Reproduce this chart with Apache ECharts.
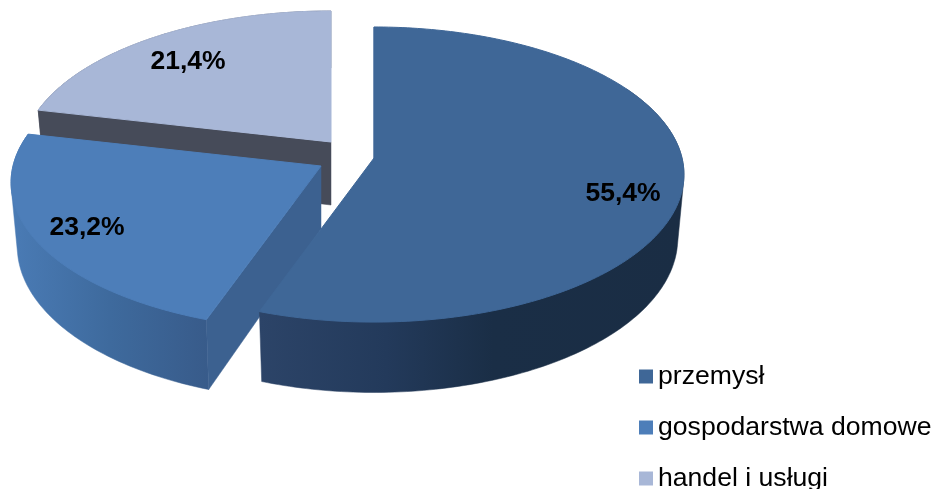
<!DOCTYPE html>
<html><head><meta charset="utf-8">
<style>html,body{margin:0;padding:0;background:#fff}#c{width:934px;height:489px}</style>
<script src="https://cdn.jsdelivr.net/npm/echarts@6/dist/echarts.min.js"></script>
</head><body><div id="c"></div>
<script>
const categories = ['przemysł', 'gospodarstwa domowe', 'handel i usługi'];
const shares = [55.4, 23.2, 21.4];
const shareLabels = ['55,4%', '23,2%', '21,4%'];

// Look of each slice (same order as the categories)
const topColors = ['#3f6797', '#4d7eb9', '#a8b7d7'];
const sideColors = ['#3f6797', '#3c6190', '#464b59'];
const wallStops = [
  [[0, '#2c4468'], [0.3, '#233a5b'], [0.55, '#1a2e46'], [1, '#1a2d44']],
  [[0, '#4a7bb5'], [0.5, '#3e6a9d'], [1, '#385b8a']],
  [[0, '#464b59'], [1, '#464b59']]
];
const explodeX = [0, -53, -43];
const explodeY = [0, 8, -16];
const labelX = [623, 87, 188];
const labelY = [194, 228, 62];
const drawOrder = [3, 2, 1];

// Camera of the tilted pie
const PIVOT_X = 374, PIVOT_Y = 158, RX = 308, RY = 145.7, PERSP = 0.112, DEPTH = 63;
const WALL_VISIBLE_FROM = 60; // degrees; the wall behind this angle is hidden by the top face

function project(deg, bottom, dx, dy) {
  const t = deg * Math.PI / 180, u = Math.sin(t), v = Math.cos(t), w = 1 + PERSP * v;
  const a = RX * (bottom ? 0.98 : 1), b = RY * (bottom ? 1.045 : 1);
  return [PIVOT_X + dx + a * u / w, PIVOT_Y + dy + (bottom ? DEPTH : 0) - b * v / w];
}
function arc(from, to, bottom, dx, dy) {
  const pts = [], n = Math.max(8, Math.ceil(Math.abs(to - from)));
  for (let i = 0; i <= n; i++) pts.push(project(from + (to - from) * i / n, bottom, dx, dy));
  return pts;
}
function hull(points) {
  const p = points.slice().sort((a, b) => a[0] - b[0] || a[1] - b[1]);
  const cross = (o, a, b) => (a[0] - o[0]) * (b[1] - o[1]) - (a[1] - o[1]) * (b[0] - o[0]);
  const half = list => {
    const out = [];
    list.forEach(q => {
      while (out.length > 1 && cross(out[out.length - 2], out[out.length - 1], q) <= 0) out.pop();
      out.push(q);
    });
    out.pop();
    return out;
  };
  return half(p).concat(half(p.slice().reverse()));
}
const total = shares.reduce((a, b) => a + b, 0);
function startAngle(idx) {
  let s = 0;
  for (let i = 0; i < idx; i++) s += shares[i];
  return s / total * 360;
}
function renderSlice(params, api) {
  const i = params.seriesIndex, dx = explodeX[i], dy = explodeY[i];
  const a0 = startAngle(i), a1 = a0 + api.value(0) / total * 360;
  const pivotTop = [PIVOT_X + dx, PIVOT_Y + dy], pivotBot = [PIVOT_X + dx, PIVOT_Y + dy + DEPTH];
  const topArc = arc(a0, a1, false, dx, dy), botArc = arc(a0, a1, true, dx, dy);
  const wallFrom = Math.max(a0, WALL_VISIBLE_FROM);
  const wall = hull(arc(wallFrom, a1, false, dx, dy).concat(arc(wallFrom, a1, true, dx, dy)));
  const xs = wall.map(p => p[0]);
  const wallFill = {
    type: 'linear', global: true,
    x: Math.min.apply(null, xs), y: 0, x2: Math.max.apply(null, xs), y2: 0,
    colorStops: wallStops[i].map(s => ({ offset: s[0], color: s[1] }))
  };
  const poly = (points, fill, lw) => ({ type: 'polygon', shape: { points }, style: { fill, stroke: fill, lineWidth: lw }, silent: true });
  return {
    type: 'group',
    children: [
      poly(wall, wallFill, 0.5),
      poly([pivotTop, topArc[0], botArc[0], pivotBot], sideColors[i], 0.5),
      poly([pivotTop].concat(topArc), topColors[i], 1),
      {
        type: 'text', z2: 10, silent: true,
        style: {
          x: labelX[i], y: labelY[i], text: shareLabels[i], fill: '#000',
          font: 'bold 26.5px "Liberation Sans", Arial, sans-serif',
          align: 'center', verticalAlign: 'middle'
        }
      }
    ]
  };
}
const chart = echarts.init(document.getElementById('c'), null, { renderer: 'canvas' });
chart.setOption({
  animation: false,
  backgroundColor: '#fff',
  legend: {
    orient: 'vertical', left: 639, top: 363, padding: 0, itemGap: 24, height: 160,
    itemWidth: 14, itemHeight: 14, icon: 'rect', selectedMode: false,
    data: categories,
    textStyle: { fontFamily: '"Liberation Sans", Arial, sans-serif', fontSize: 26.6, color: '#000' }
  },
  series: categories.map((name, i) => ({
    type: 'custom', name, coordinateSystem: 'none', z: drawOrder[i], silent: true,
    itemStyle: { color: topColors[i] },
    data: [[shares[i]]],
    renderItem: renderSlice
  }))
});
</script></body></html>
